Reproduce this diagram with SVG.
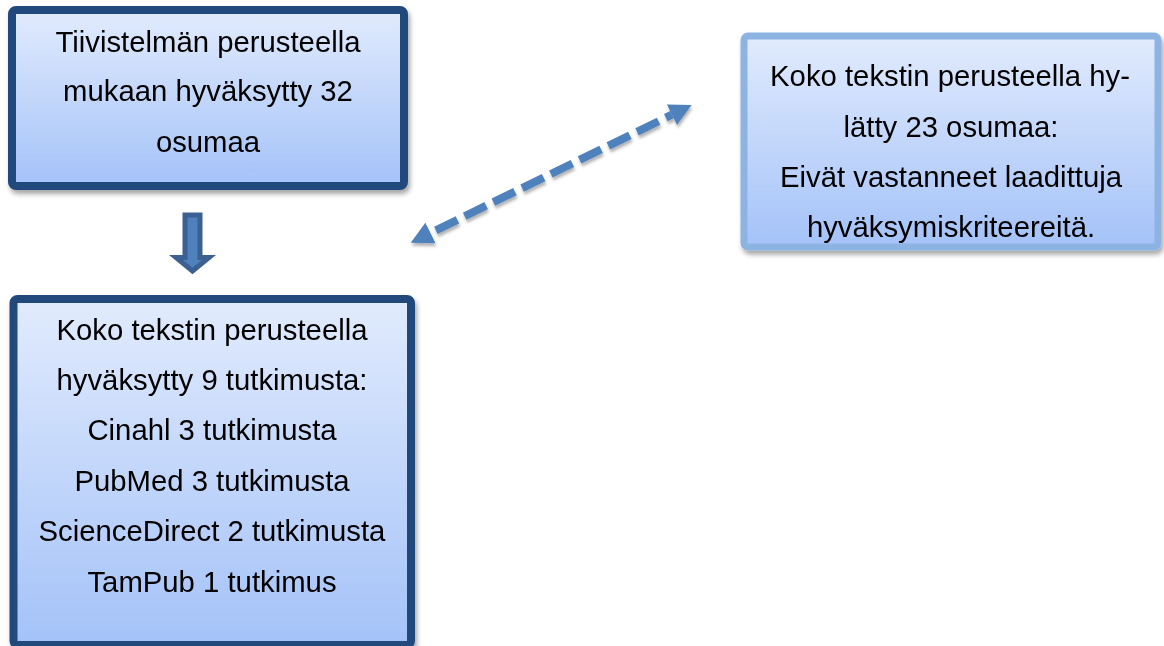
<svg xmlns="http://www.w3.org/2000/svg" width="1164" height="646" viewBox="0 0 1164 646">
  <defs>
    <linearGradient id="fillGrad" x1="0" y1="0" x2="0" y2="1">
      <stop offset="0" stop-color="#E1EBFD"/>
      <stop offset="1" stop-color="#A4C2F8"/>
    </linearGradient>
    <filter id="shadow" x="-10%" y="-10%" width="125%" height="125%">
      <feDropShadow dx="2" dy="4" stdDeviation="2.5" flood-color="#000" flood-opacity="0.35"/>
    </filter>
    <filter id="lshadow" x="-10%" y="-10%" width="125%" height="130%">
      <feDropShadow dx="1" dy="3" stdDeviation="1.5" flood-color="#000" flood-opacity="0.3"/>
    </filter>
    <marker id="head" markerUnits="userSpaceOnUse" markerWidth="23" markerHeight="24" refX="0" refY="12" orient="auto-start-reverse">
      <path d="M0,0.5 L22,12 L0,23.5 Z" fill="#4F81BD"/>
    </marker>
  </defs>
  <style>
    .dark { fill: url(#fillGrad); stroke: #234A7C; stroke-width: 8; }
    .light { fill: url(#fillGrad); stroke: #8DB3E2; stroke-width: 7; }
    .t { font-family: "Liberation Sans", Arial, sans-serif; font-size: 29.3px; fill: #000; text-anchor: middle; }
  </style>

  <g id="node-tiivistelma" filter="url(#shadow)">
    <rect class="dark" x="12" y="10" width="392" height="176" rx="4"/>
    <text class="t" x="208" y="51.7">Tiivistelmän perusteella</text>
    <text class="t" x="208" y="101">mukaan hyväksytty 32</text>
    <text class="t" x="208" y="151.5">osumaa</text>
  </g>

  <g id="node-hylatty" filter="url(#shadow)">
    <rect class="light" x="744" y="36" width="414" height="211" rx="4"/>
    <text class="t" x="950" y="85.5">Koko tekstin perusteella hy-</text>
    <text class="t" x="951" y="136.5">lätty 23 osumaa:</text>
    <text class="t" x="951" y="186.5">Eivät vastanneet laadittuja</text>
    <text class="t" x="951" y="236.5">hyväksymiskriteereitä.</text>
  </g>

  <g id="node-hyvaksytty" filter="url(#shadow)">
    <rect class="dark" x="13.5" y="299" width="397.5" height="346" rx="4"/>
    <text class="t" x="212" y="340">Koko tekstin perusteella</text>
    <text class="t" x="212" y="390">hyväksytty 9 tutkimusta:</text>
    <text class="t" x="212" y="440">Cinahl 3 tutkimusta</text>
    <text class="t" x="212" y="490.5">PubMed 3 tutkimusta</text>
    <text class="t" x="212" y="541">ScienceDirect 2 tutkimusta</text>
    <text class="t" x="212" y="591.5">TamPub 1 tutkimus</text>
  </g>

  <g id="connectors">
    <path d="M185,215 L200,215 L200,257.5 L209,257.5 L192.5,271 L176,257.5 L185,257.5 Z" fill="#4F81BD" stroke="#3A6191" stroke-width="5" stroke-linejoin="miter"/>
    <path d="M430.5,233 L671.9,114.7" fill="none" stroke="#4F81BD" stroke-width="8" stroke-dasharray="24 8" stroke-dashoffset="26" marker-start="url(#head)" marker-end="url(#head)" filter="url(#lshadow)"/>
  </g>
</svg>
